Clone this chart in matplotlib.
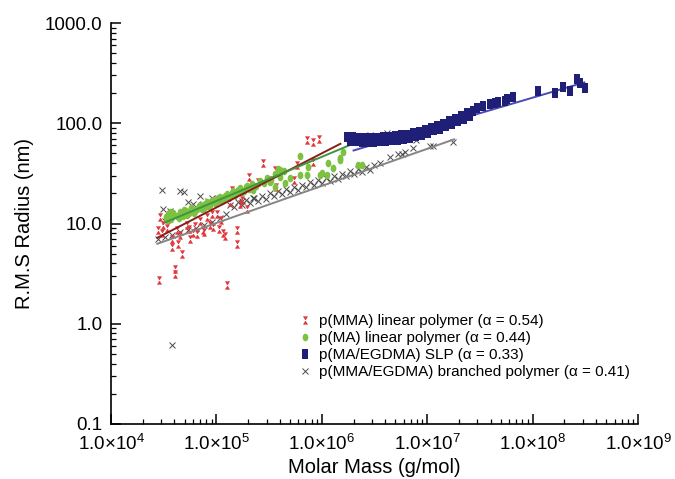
import matplotlib
matplotlib.use("Agg")
import matplotlib.pyplot as plt
from matplotlib.path import Path
import numpy as np

plt.rcParams['font.family'] = ['Liberation Sans', 'DejaVu Sans']
plt.rcParams['mathtext.fontset'] = 'custom'
plt.rcParams['mathtext.rm'] = 'Liberation Sans'
plt.rcParams['mathtext.it'] = 'Liberation Sans:italic'
plt.rcParams['mathtext.bf'] = 'Liberation Sans:bold'

# ---------------- data ----------------
labels = ["p(MMA) linear polymer (\u03b1 = 0.54)",
          "p(MA) linear polymer (\u03b1 = 0.44)",
          "p(MA/EGDMA) SLP (\u03b1 = 0.33)",
          "p(MMA/EGDMA) branched polymer (\u03b1 = 0.41)"]

red_x = [2.92e4, 2.79e4, 3.11e4, 3.05e4, 3.40e4, 3.79e4, 3.79e4, 4.32e4, 4.72e4, 4.05e4,
         4.05e4, 2.85e4, 4.23e4, 5.26e4, 6.00e4, 6.98e4, 7.46e4, 8.69e4, 9.29e4, 8.15e4,
         1.16e5, 1.21e5, 1.57e5, 1.57e5, 1.26e5, 1.01e5, 1.41e5, 1.35e5, 1.75e5, 2.04e5,
         2.48e5, 2.77e5, 3.23e5, 3.68e5, 3.60e5, 5.45e5, 5.82e5, 7.24e5, 8.25e5, 9.40e5,
         8.25e5, 9.08e4, 1.01e5, 1.67e5, 1.95e5, 3.47e4, 4.52e4, 5.62e4, 6.55e4,
         5.5e4, 6.3e4, 7.7e4, 1.06e5, 1.10e5]
red_y = [11.5, 8.71, 9.77, 8.13, 9.12, 6.93, 5.77, 6.18, 4.92, 3.48,
         3.11, 2.71, 8.71, 9.77, 8.13, 10.5, 8.71, 9.77, 9.33, 11.7,
         8.13, 7.43, 8.71, 6.18, 2.41, 12.3, 21.8, 16.2, 17.3, 29.4,
         26.2, 40.5, 27.4, 23.3, 34.4, 27.4, 38.6, 68.5, 65.5, 70.1,
         41.4, 12.3, 17.3, 15.5, 13.8, 11.0, 7.60, 6.93, 7.78,
         8.9, 9.4, 8.2, 8.9, 10.8]

green_x = [3.3e4, 3.5e4, 3.7e4, 3.9e4, 4.2e4, 4.5e4, 4.8e4, 5.1e4, 5.5e4, 5.9e4,
           6.3e4, 6.8e4, 7.3e4, 7.8e4, 8.4e4, 9.0e4, 9.7e4, 1.04e5, 1.12e5, 1.2e5,
           1.3e5, 1.4e5, 1.5e5, 1.62e5, 1.75e5, 1.9e5, 2.05e5, 2.2e5, 2.4e5, 2.6e5,
           2.8e5, 3.0e5, 3.3e5, 3.6e5, 4.0e5, 4.4e5,
           3.4e4, 3.6e4, 4.0e4, 4.4e4, 4.9e4, 5.3e4, 5.7e4, 6.1e4, 6.6e4, 7.0e4,
           7.6e4, 8.1e4, 8.7e4, 9.3e4, 1.0e5, 1.08e5, 1.16e5, 1.25e5, 1.35e5, 1.45e5,
           1.56e5, 1.68e5, 1.82e5, 1.97e5, 2.12e5,
           3.84e5, 6.21e5, 7.40e5, 9.61e5, 1.12e6, 1.28e6, 1.15e6, 4.99e5, 4.48e5, 6.21e5,
           3.60e5, 2.22e5, 7.24e5, 1.00e6, 1.49e6, 2.20e6, 1.59e6, 1.49e6, 2.40e6, 4.01e5,
           3.23e5]
green_y = [11.5, 12.4, 11.2, 12.6, 11.8, 12.9, 12.0, 13.4, 12.6, 13.9,
           13.2, 14.8, 14.0, 15.6, 14.9, 16.7, 15.9, 17.8, 16.9, 18.9,
           18.0, 20.3, 19.3, 21.7, 20.6, 23.3, 22.0, 24.8, 23.5, 26.8,
           25.1, 28.5, 26.9, 31.0, 29.2, 33.5,
           10.9, 13.0, 12.2, 11.3, 13.6, 12.1, 14.2, 12.8, 13.8, 15.3,
           14.4, 16.2, 15.2, 17.3, 16.3, 18.4, 17.4, 19.6, 18.6, 21.0,
           20.0, 22.5, 21.2, 23.9, 22.8,
           35.2, 47.5, 36.9, 30.8, 30.8, 36.1, 40.5, 28.7, 25.6, 30.8,
           23.3, 21.8, 30.8, 32.1, 43.4, 38.6, 52.0, 45.4, 38.6, 34.4,
           26.2]

navy_x = [1.73e6, 1.85e6, 1.98e6, 2.11e6, 2.25e6, 2.41e6, 2.57e6, 2.74e6, 2.93e6, 3.13e6,
          3.34e6, 3.57e6, 3.81e6, 4.07e6, 4.34e6, 4.63e6, 4.95e6, 5.28e6, 5.64e6, 6.02e6,
          6.43e6, 6.87e6, 7.33e6, 7.83e6, 8.36e6, 8.93e6, 9.53e6, 1.02e7, 1.09e7, 1.16e7,
          1.24e7, 1.32e7, 1.41e7, 1.51e7, 1.61e7, 1.72e7, 1.84e7, 1.96e7, 2.09e7, 2.23e7,
          2.39e7, 2.55e7, 2.72e7,
          2.97e7, 3.38e7, 3.94e7, 4.40e7, 4.70e7, 5.47e7, 5.72e7, 6.52e7, 1.125e8, 1.631e8,
          1.943e8, 2.263e8, 2.638e8, 2.817e8, 3.143e8]
navy_y = [73.4, 66.7, 72.7, 66.1, 72.0, 65.4, 71.7, 65.4, 71.7, 65.4,
          72.0, 66.1, 72.7, 66.7, 73.4, 67.4, 74.4, 68.5, 75.8, 69.8,
          76.8, 71.4, 79.5, 73.9, 82.3, 76.5, 86.2, 80.4, 90.2, 85.2,
          94.4, 88.2, 99.3, 93.3, 105.4, 98.9, 110.9, 104.7, 118.2, 110.9,
          125.8, 118.2, 133.2,
          142.6, 149.3, 156.3, 160.0, 163.7, 167.5, 175.3, 183.5, 210.6, 201.2,
          230.8, 210.6, 277.3, 252.9, 225.6]

gray_x = [2.79e4, 3.25e4, 3.79e4, 4.51e4, 5.38e4, 6.41e4, 7.63e4, 9.08e4, 1.08e5, 1.23e5,
          3.05e4, 4.51e4, 4.93e4, 3.11e4, 3.63e4, 5.38e4, 6.00e4, 6.99e4, 7.46e4, 8.32e4,
          9.08e4, 1.04e5, 1.44e5, 1.75e5, 2.22e5, 3.25e4, 4.05e4, 3.79e4,
          1.35e5, 1.47e5, 1.60e5, 1.75e5, 1.91e5, 2.08e5, 2.27e5, 2.48e5, 2.71e5, 2.96e5,
          3.23e5, 3.52e5, 3.84e5, 4.19e5, 4.58e5, 4.99e5, 5.45e5, 5.95e5, 6.49e5, 7.08e5,
          7.73e5, 8.43e5, 9.20e5, 1.00e6, 1.10e6, 1.20e6, 1.31e6, 1.42e6, 1.55e6, 1.70e6,
          1.85e6, 2.02e6, 2.21e6, 2.41e6, 2.63e6, 2.87e6, 3.13e6,
          3.57e6, 4.44e6, 5.28e6, 5.77e6, 7.33e6, 6.16e6, 1.06e7, 1.14e7, 1.76e7, 2.87e6,
          4.16e6, 7.83e6]
gray_y = [6.93, 7.26, 7.60, 8.14, 8.52, 9.12, 9.77, 10.47, 11.47, 12.58,
          21.8, 21.3, 20.8, 13.8, 13.2, 16.2, 15.8, 18.6, 15.8, 16.6,
          18.1, 16.6, 18.6, 16.6, 18.1, 10.5, 11.5, 0.61,
          15.46, 14.46, 16.25, 15.21, 17.09, 16.03, 18.02, 16.86, 18.95, 17.74,
          19.93, 18.65, 20.96, 19.61, 22.10, 20.68, 23.24, 21.74, 24.44, 22.87,
          25.70, 24.05, 27.03, 25.35, 28.49, 26.67, 29.97, 28.04, 31.51, 29.49,
          33.14, 31.01, 34.94, 32.69, 36.74, 34.38, 38.64,
          40.5, 46.4, 49.7, 49.7, 57.1, 52.0, 59.7, 59.7, 65.4, 76.8,
          80.4, 68.5]

# power-law fit lines: R = 10**logk * M**slope over [xmin, xmax]
fit_slope = [0.54, 0.44, 0.31, 0.37]
fit_logk = [-1.54, -0.975, -0.225, -0.845]
fit_xmin = [2.75e4, 3.3e4, 2.0e6, 2.75e4]
fit_xmax = [1.5e6, 2.4e6, 3.1e8, 1.8e7]

xticks = [1e4, 1e5, 1e6, 1e7, 1e8, 1e9]
xticklabels = [r'1.0$\times$10$^{4}$', r'1.0$\times$10$^{5}$', r'1.0$\times$10$^{6}$',
               r'1.0$\times$10$^{7}$', r'1.0$\times$10$^{8}$', r'1.0$\times$10$^{9}$']
yticks = [0.1, 1, 10, 100, 1000]
yticklabels = ['0.1', '1.0', '10.0', '100.0', '1000.0']

# ---------------- markers ----------------
hourglass = Path([(-0.55, 0.9), (0.55, 0.9), (-0.55, -0.9), (0.55, -0.9), (-0.55, 0.9)],
                 [Path.MOVETO, Path.LINETO, Path.LINETO, Path.LINETO, Path.CLOSEPOLY])
rect = Path([(-0.42, -0.6), (0.42, -0.6), (0.42, 0.6), (-0.42, 0.6), (-0.42, -0.6)],
            [Path.MOVETO, Path.LINETO, Path.LINETO, Path.LINETO, Path.CLOSEPOLY])
t = np.linspace(0, 2 * np.pi, 25)
ell = Path(np.column_stack([0.38 * np.cos(t), 0.5 * np.sin(t)]))

c_red = '#e2363a'
c_green = '#7cc142'
c_navy = '#1f1f78'
c_gray = '#4a4a4a'
line_cols = ['#8a1c1c', '#3c963c', '#4a4ab4', '#858585']

fig = plt.figure(figsize=(6.75, 4.79), dpi=100)
ax = fig.add_axes([111 / 675, 1 - 424 / 479, (638 - 111) / 675, (424 - 23) / 479])

ax.plot(gray_x, gray_y, linestyle='none', marker='x', markersize=4, mew=0.7,
        color=c_gray, zorder=2, label=labels[3])
ax.plot(red_x, red_y, linestyle='none', marker=hourglass, markersize=6, mew=0,
        color=c_red, zorder=2, label=labels[0])
ax.plot(green_x, green_y, linestyle='none', marker=ell, markersize=5.5, mew=0,
        color=c_green, zorder=2, label=labels[1])

for i in range(4):
    xs = np.logspace(np.log10(fit_xmin[i]), np.log10(fit_xmax[i]), 50)
    ax.plot(xs, 10 ** fit_logk[i] * xs ** fit_slope[i], color=line_cols[i], lw=1.4, zorder=3)

ax.plot(navy_x, navy_y, linestyle='none', marker=rect, markersize=6.5, mew=0,
        color=c_navy, zorder=4, label=labels[2])

ax.set_xscale('log')
ax.set_yscale('log')
ax.set_xlim(1e4, 1e9)
ax.set_ylim(0.1, 1000)
ax.set_xticks(xticks)
ax.set_xticklabels(xticklabels)
ax.set_yticks(yticks)
ax.set_yticklabels(yticklabels)
ax.xaxis.set_minor_locator(matplotlib.ticker.LogLocator(base=10, subs=np.arange(2, 10)))
ax.yaxis.set_minor_locator(matplotlib.ticker.LogLocator(base=10, subs=np.arange(2, 10)))
ax.xaxis.set_minor_formatter(matplotlib.ticker.NullFormatter())
ax.yaxis.set_minor_formatter(matplotlib.ticker.NullFormatter())
ax.tick_params(which='major', direction='in', length=7, width=1.1, labelsize=13.5, colors='black')
ax.tick_params(which='minor', direction='in', length=3.5, width=0.9)
ax.tick_params(axis='x', which='major', pad=7)
ax.tick_params(axis='y', which='major', pad=6)
for s in ['top', 'right']:
    ax.spines[s].set_visible(False)
for s in ['left', 'bottom']:
    ax.spines[s].set_linewidth(1.2)

ax.set_xlabel('Molar Mass (g/mol)', fontsize=14.5, labelpad=3)
ax.set_ylabel('R.M.S Radius (nm)', fontsize=14.5, labelpad=8)

h, l = ax.get_legend_handles_labels()
order = [l.index(lab) for lab in labels]
leg = ax.legend([h[k] for k in order], [l[k] for k in order], loc='upper left',
                bbox_to_anchor=(299 / 675, 1 - 314 / 479), bbox_transform=fig.transFigure,
                frameon=False, fontsize=11, handlelength=0.8, handletextpad=0.5,
                labelspacing=0.2, borderpad=0, borderaxespad=0, numpoints=1)

fig.savefig('out.png', dpi=100)
